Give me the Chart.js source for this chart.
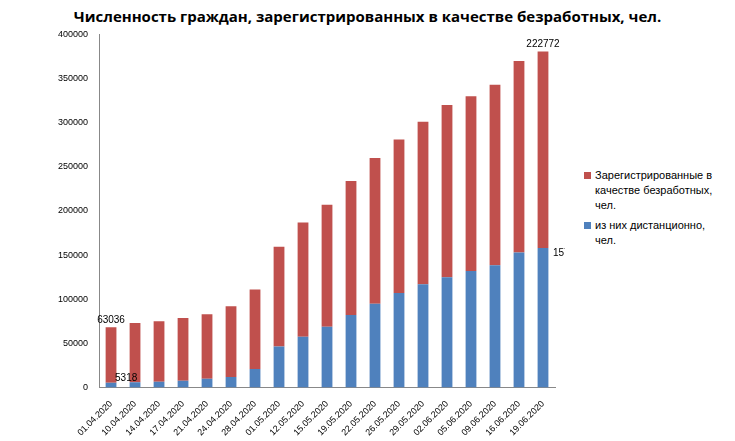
<!DOCTYPE html>
<html><head><meta charset="utf-8">
<script src="https://cdn.jsdelivr.net/npm/chart.js@4/dist/chart.umd.min.js"></script>
<style>
body{margin:0;background:#fff;font-family:"Liberation Sans",Arial,sans-serif}
#wrap{position:relative;width:735px;height:441px}
#title{position:absolute;top:6px;left:0;width:735px;text-align:center;font:bold 15px "Open Sans",sans-serif;color:#000}
#chartBox{position:absolute;left:55px;top:26px;width:510px;height:415px}
.leg{position:absolute;left:584px;font-size:11px;line-height:15px;color:#000;width:140px}
.leg span{position:absolute;left:0;top:4px;width:7px;height:7px}
.leg div{margin-left:11px}
</style></head>
<body>
<div id="wrap">
<div id="title">Численность граждан, зарегистрированных в качестве безработных, чел.</div>
<div id="chartBox"><canvas id="c"></canvas></div>
<div class="leg" style="top:168px"><span style="background:#c0504d"></span><div>Зарегистрированные в качестве безработных, чел.</div></div>
<div class="leg" style="top:218px"><span style="background:#4f81bd"></span><div>из них дистанционно, чел.</div></div>
</div>
<script>
var dates = ["01.04.2020","10.04.2020","14.04.2020","17.04.2020","21.04.2020","24.04.2020","28.04.2020","01.05.2020","12.05.2020","15.05.2020","19.05.2020","22.05.2020","26.05.2020","29.05.2020","02.06.2020","05.06.2020","09.06.2020","16.06.2020","19.06.2020"];
var remote = [5318,6000,6600,7700,10000,12000,21000,46500,57600,68700,82000,95000,107000,117000,125000,132000,138500,153000,157960];
var registered = [63036,67000,68400,71000,73000,80000,90000,113000,129400,138300,152000,165000,174000,184000,195000,198000,204500,217000,222772];
var labeled = [0, 18];

var labelPlugin = {
    id: "valueLabels",
    afterDatasetsDraw: function (chart) {
        var ctx = chart.ctx;
        ctx.save();
        ctx.font = "10px 'Liberation Sans', Arial";
        ctx.fillStyle = "#000";
        var mBlue = chart.getDatasetMeta(0), mRed = chart.getDatasetMeta(1);
        labeled.forEach(function (i) {
            var b = mBlue.data[i], r = mRed.data[i];
            ctx.textBaseline = "bottom";
            ctx.textAlign = "center";
            ctx.fillText(registered[i], r.x, r.y - 2);
            ctx.textAlign = "left";
            if (i == 0) {
                ctx.fillText(remote[i], b.x + 4, b.y);
            } else {
                ctx.fillText(remote[i], b.x + 10, b.y + 10);
            }
        });
        ctx.restore();
    }
};

new Chart("c", {
    type: "bar",
    data: {
        labels: dates,
        datasets: [
            { label: "из них дистанционно, чел.", data: remote, backgroundColor: "#4f81bd", stack: "s" },
            { label: "Зарегистрированные в качестве безработных, чел.", data: registered, backgroundColor: "#c0504d", stack: "s" }
        ]
    },
    options: {
        responsive: true,
        maintainAspectRatio: false,
        animation: false,
        layout: { padding: { top: 0, right: 10 } },
        datasets: { bar: { categoryPercentage: 1, barPercentage: 0.45 } },
        plugins: { legend: { display: false }, tooltip: { enabled: false } },
        scales: {
            x: {
                stacked: true,
                grid: { display: false },
                border: { color: "#888" },
                ticks: { color: "#000", font: { size: 9 }, maxRotation: 45, minRotation: 45, autoSkip: false }
            },
            y: {
                stacked: true, min: 0, max: 400000,
                grid: { display: false },
                border: { color: "#888" },
                ticks: { stepSize: 50000, color: "#000", font: { size: 9 }, callback: function (v) { return String(v); } }
            }
        }
    },
    plugins: [labelPlugin]
});
</script>
</body></html>
